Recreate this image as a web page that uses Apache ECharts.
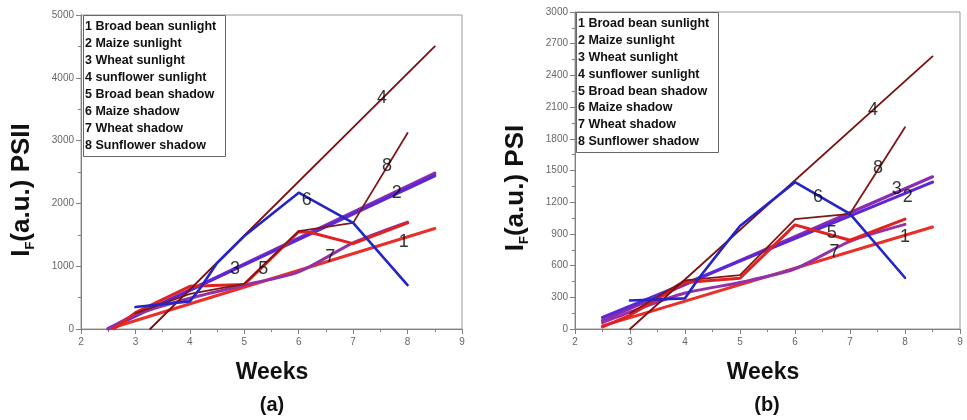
<!DOCTYPE html>
<html><head><meta charset="utf-8">
<script src="https://cdn.jsdelivr.net/npm/echarts@6/dist/echarts.min.js"></script>
<style>html,body{margin:0;padding:0;background:#fff}#c{width:967px;height:420px}</style>
</head><body><div id="c"></div>
<script>
// ---------- data ----------
const seriesNames = ['1 Broad bean sunlight','2 Maize sunlight','3 Wheat sunlight','4 sunflower sunlight','5 Broad bean shadow','6 Maize shadow','7 Wheat shadow','8 Sunflower shadow'];
const xTicks = [2,3,4,5,6,7,8,9];
const yTicksA = [0,1000,2000,3000,4000,5000];
const yTicksB = [0,300,600,900,1200,1500,1800,2100,2400,2700,3000];

// panel (a) PSII  [week, value]
const a1 = [[2.5,0],[8.5,1600]];
const a2 = [[2.5,10],[8.5,2440]];
const a3 = [[2.5,0],[8.5,2480]];
const a4 = [[3.27,0],[8.5,4500]];
const a5 = [[2.6,0],[3,260],[4,680],[5,710],[6,1550],[6.2,1540],[7,1360],[8,1690]];
const a6 = [[3,350],[4,440],[4.2,660],[4.5,1050],[5,1480],[6,2170],[7,1690],[8,700]];
const a7 = [[2.5,0],[3,230],[4,490],[5,700],[6,910],[7,1370],[8,1700]];
const a8 = [[3,250],[4,560],[5,720],[6,1560],[7,1690],[8,3120]];
// panel (b) PSI
const b1 = [[2.5,30],[8.5,965]];
const b2 = [[2.5,110],[8.5,1390]];
const b3 = [[2.5,80],[8.5,1440]];
const b4 = [[3,0],[8.5,2580]];
const b5 = [[2.5,20],[3,130],[4,440],[5,480],[6,985],[7,840],[8,1040]];
const b6 = [[3,270],[4,290],[4.25,480],[4.7,780],[5,975],[6,1390],[7,1090],[8,485]];
const b7 = [[2.5,60],[3,160],[4,340],[5,440],[6,570],[7,830],[8,990]];
const b8 = [[3,150],[4,460],[5,510],[6,1040],[7,1090],[8,1910]];
// curve number labels [week, value, text]
const labelsA = [[7.53,3680,'4'],[7.62,2590,'8'],[7.8,2170,'2'],[6.15,2060,'6'],[7.93,1390,'1'],[6.58,1150,'7'],[4.83,960,'3'],[5.35,960,'5']];
const labelsB = [[7.42,2070,'4'],[7.51,1520,'8'],[7.85,1320,'3'],[8.05,1250,'2'],[6.42,1250,'6'],[6.67,905,'5'],[8.0,870,'1'],[6.72,730,'7']];

// ---------- styles ----------
const colors = ['#e8302a','#5a28d6','#8a2bb0','#7a1010','#e02222','#2424c8','#9232a6','#801818'];
const widths = [3,3.2,3.2,1.8,3,2.6,3,1.8];
const drawOrder = [2,1,0,6,4,7,3,5];

const FONT = 'Liberation Sans, Arial, sans-serif';
const chart = echarts.init(document.getElementById('c'), null, {renderer:'canvas'});

function axisX(grid){
  return {type:'value',gridIndex:grid,min:2,max:9,interval:1,
    axisLine:{show:true,onZero:false,lineStyle:{color:'#808080',width:1}},
    axisTick:{show:true,inside:false,length:5,lineStyle:{color:'#808080'}},
    minorTick:{show:true,splitNumber:2,length:3,lineStyle:{color:'#808080'}},
    splitLine:{show:false},
    axisLabel:{color:'#666',fontSize:10,fontFamily:FONT,margin:8,
      formatter:v=>xTicks.includes(v)?String(v):''}};
}
function axisY(grid,max,interval,ticks){
  return {type:'value',gridIndex:grid,min:0,max:max,interval:interval,
    axisLine:{show:true,lineStyle:{color:'#808080',width:1}},
    axisTick:{show:true,inside:false,length:5,lineStyle:{color:'#808080'}},
    minorTick:{show:true,splitNumber:2,length:3,lineStyle:{color:'#808080'}},
    splitLine:{show:false},
    axisLabel:{color:'#666',fontSize:10,fontFamily:FONT,margin:7,
      formatter:v=>ticks.includes(v)?String(v):''}};
}
const dataA=[a1,a2,a3,a4,a5,a6,a7,a8], dataB=[b1,b2,b3,b4,b5,b6,b7,b8];
const series=[];
[[dataA,0],[dataB,1]].forEach(([d,g])=>{
  drawOrder.forEach(i=>{
    series.push({type:'line',name:seriesNames[i],xAxisIndex:g,yAxisIndex:g,data:d[i],
      showSymbol:false,symbol:'none',smooth:(i===6)?0.25:false,
      lineStyle:{color:colors[i],width:widths[i],cap:'round',join:'round'},z:2});
  });
});
[[labelsA,0],[labelsB,1]].forEach(([L,g])=>{
  series.push({type:'scatter',xAxisIndex:g,yAxisIndex:g,symbolSize:0,z:5,
    data:L.map(p=>({value:[p[0],p[1]],name:p[2]})),
    label:{show:true,position:'inside',formatter:p=>p.name,color:'#000',fontSize:18,fontFamily:FONT}});
});

const legendText = seriesNames.join('\n');
function legendBox(left,top,lh){
  return {text:legendText,left:left,top:top,padding:[3,9,3,2],borderColor:'#666',borderWidth:1,
    textStyle:{fontFamily:FONT,fontSize:12.5,fontWeight:'bold',color:'#111',lineHeight:lh}};
}
function yTitle(x,y,t){
  return {type:'text',x:x,y:y,rotation:Math.PI/2,z:10,
    style:{text:'{m|I}{s|F}{m|'+t+'}',align:'center',verticalAlign:'middle',
      rich:{m:{fontFamily:FONT,fontSize:26,fontWeight:'bold',fill:'#111',lineHeight:30,verticalAlign:'middle'},
            s:{fontFamily:FONT,fontSize:13,fontWeight:'bold',fill:'#111',lineHeight:13,verticalAlign:'bottom'}}}};
}
function txt(x,y,t,size){
  return {type:'text',x:x,y:y,z:10,style:{text:t,align:'center',verticalAlign:'middle',
    fontFamily:FONT,fontSize:size,fontWeight:'bold',fill:'#111'}};
}

chart.setOption({
  animation:false,
  backgroundColor:'#fff',
  title:[legendBox(83,15,17),legendBox(576,12,16.9)],
  grid:[{left:81,top:15,width:381,height:314,show:true,borderColor:'#999',borderWidth:1},
        {left:575,top:12,width:385,height:317,show:true,borderColor:'#999',borderWidth:1}],
  xAxis:[axisX(0),axisX(1)],
  yAxis:[axisY(0,5000,1000,yTicksA),axisY(1,3000,300,yTicksB)],
  series:series,
  graphic:[yTitle(22,190,'(a.u.) PSII'),yTitle(516,188,'(a.u.) PSI'),
    txt(272,373,'Weeks',23),txt(272,405,'(a)',20),txt(763,373,'Weeks',23),txt(767,405,'(b)',20)]
});
</script></body></html>
